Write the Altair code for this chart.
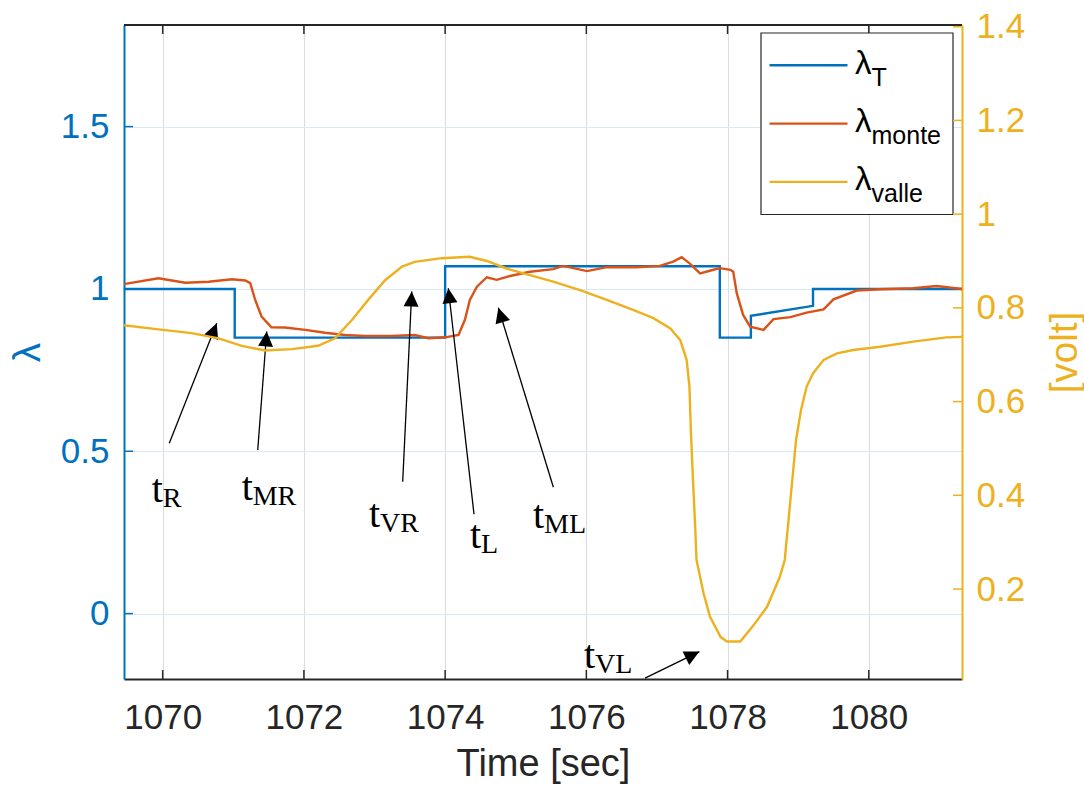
import math
import altair as alt
import pandas as pd

# ---------------- data ----------------
t_T = [1069.45, 1071.02, 1071.02, 1074.0, 1074.0, 1077.89, 1077.89, 1078.33, 1078.33, 1079.21, 1079.21, 1081.32]
lam_T = [1.0, 1.0, 0.85, 0.85, 1.07, 1.07, 0.85, 0.85, 0.917, 0.948, 1.0, 1.0]

t_monte = [1069.45, 1069.94, 1070.32, 1070.65, 1070.98, 1071.17, 1071.24, 1071.31, 1071.40, 1071.54,
           1071.73, 1072.02, 1072.30, 1072.58, 1072.87, 1073.24, 1073.57, 1073.76, 1074.00, 1074.19,
           1074.28, 1074.35, 1074.45, 1074.59, 1074.73, 1074.92, 1075.20, 1075.53, 1075.67, 1076.01,
           1076.29, 1076.71, 1077.04, 1077.23, 1077.35, 1077.47, 1077.61, 1077.80, 1077.89, 1078.04,
           1078.08, 1078.13, 1078.22, 1078.32, 1078.51, 1078.65, 1078.89, 1079.12, 1079.36, 1079.50,
           1079.83, 1080.16, 1080.63, 1080.96, 1081.32]
lam_monte = [1.015, 1.033, 1.019, 1.022, 1.030, 1.026, 1.018, 0.966, 0.915, 0.882,
             0.881, 0.874, 0.865, 0.858, 0.855, 0.855, 0.858, 0.848, 0.851, 0.858,
             0.905, 0.966, 1.007, 1.036, 1.028, 1.040, 1.053, 1.061, 1.071, 1.055,
             1.067, 1.067, 1.071, 1.084, 1.098, 1.077, 1.048, 1.059, 1.064, 1.059,
             1.053, 0.987, 0.920, 0.884, 0.874, 0.907, 0.913, 0.927, 0.937, 0.968,
             0.995, 0.999, 1.002, 1.009, 1.000]

t_valle = [1069.45, 1069.94, 1070.41, 1070.79, 1071.12, 1071.45, 1071.83, 1072.20, 1072.44, 1072.68,
           1072.91, 1073.15, 1073.39, 1073.57, 1073.95, 1074.35, 1074.59, 1074.87, 1075.20, 1075.53,
           1075.91, 1076.29, 1076.67, 1076.95, 1077.19, 1077.33, 1077.42, 1077.46, 1077.48, 1077.51,
           1077.54, 1077.56, 1077.66, 1077.75, 1077.90, 1077.99, 1078.18, 1078.37, 1078.56, 1078.74,
           1078.81, 1078.89, 1078.97, 1079.04, 1079.12, 1079.21, 1079.36, 1079.55, 1079.78, 1080.16,
           1080.63, 1081.10, 1081.32]
volt_valle = [0.763, 0.754, 0.746, 0.735, 0.719, 0.709, 0.712, 0.719, 0.735, 0.774,
              0.817, 0.859, 0.888, 0.898, 0.906, 0.909, 0.900, 0.884, 0.870, 0.856,
              0.838, 0.817, 0.795, 0.778, 0.756, 0.731, 0.689, 0.632, 0.539, 0.433,
              0.337, 0.262, 0.191, 0.141, 0.098, 0.088, 0.088, 0.123, 0.162, 0.226,
              0.262, 0.390, 0.518, 0.582, 0.632, 0.660, 0.689, 0.703, 0.710, 0.717,
              0.728, 0.737, 0.738]

ann_sub = ["R", "MR", "VR", "L", "ML", "VL"]
ann_t = [1069.844, 1071.119, 1072.922, 1074.353, 1075.245, 1075.968]
ann_lam = [0.345, 0.350, 0.268, 0.202, 0.264, -0.168]
tail_t = [1070.093, 1071.346, 1073.399, 1074.409, 1075.533, 1076.831]
tail_lam = [0.525, 0.504, 0.406, 0.306, 0.389, -0.199]
head_t = [1070.765, 1071.473, 1073.527, 1074.045, 1074.754, 1077.601]
head_lam = [0.894, 0.869, 0.992, 1.002, 0.942, -0.117]

x_ticks = [1070, 1072, 1074, 1076, 1078, 1080]
lam_ticks = [0, 0.5, 1, 1.5]
volt_ticks = [0.2, 0.4, 0.6, 0.8, 1.0, 1.2, 1.4]

legend_names = ["T", "monte", "valle"]

# ---------------- layout / style ----------------
W, H = 838, 654
X_DOM = [1069.452, 1081.32]
L_DOM = [-0.2015, 1.813]
R_DOM = [0.008, 1.4036]
BLUE, ORANGE, YELLOW, DARK = "#0072BD", "#D95319", "#EDB120", "#262626"
SANS, SERIF = "Liberation Sans", "Liberation Serif"
TICK = 9
LW = 2.4

sx = W / (X_DOM[1] - X_DOM[0])
sy = H / (L_DOM[1] - L_DOM[0])

df_T = pd.DataFrame({"t": t_T, "lam": lam_T})
df_M = pd.DataFrame({"t": t_monte, "lam": lam_monte})
df_V = pd.DataFrame({"t": t_valle, "v": volt_valle})
angles = []
for a, b, c, d in zip(tail_t, tail_lam, head_t, head_lam):
    dx = (c - a) * sx
    dy = (d - b) * sy  # upward positive
    angles.append(math.degrees(math.atan2(dx, dy)) % 360)
df_arr = pd.DataFrame({"t": tail_t, "lam": tail_lam, "t2": head_t, "lam2": head_lam})
df_head = pd.DataFrame({"t": head_t, "lam": head_lam, "ang": angles})
df_ann = pd.DataFrame({"t": ann_t, "lam": ann_lam, "sub": ann_sub, "main": ["t"] * len(ann_sub)})
df_xt = pd.DataFrame({"t": x_ticks})
df_lt = pd.DataFrame({"lam": lam_ticks})
df_vt = pd.DataFrame({"v": volt_ticks})
one = pd.DataFrame({"k": [0]})

X = alt.X("t:Q", scale=alt.Scale(domain=X_DOM, nice=False, zero=False),
          axis=alt.Axis(values=x_ticks, format="d", ticks=False, labelFont=SANS, labelFontSize=35,
                        labelColor=DARK, labelPadding=21, domainColor=DARK, domainWidth=2,
                        grid=True, gridColor="#dcdcdc", gridWidth=1,
                        title="Time [sec]", titleFont=SANS, titleFontSize=38, titleColor=DARK,
                        titleFontWeight="normal", titleX=W / 2, titleY=96, titleAlign="center",
                        titleBaseline="alphabetic"))
YL = alt.Y("lam:Q", scale=alt.Scale(domain=L_DOM, nice=False, zero=False),
           axis=alt.Axis(values=lam_ticks, format="~g", orient="left", ticks=False, labelFont=SANS,
                         labelFontSize=35, labelColor=BLUE, labelPadding=15, domainColor=BLUE, domainWidth=2,
                         grid=True, gridColor="#d9eaf5", gridWidth=1,
                         title="λ", titleFont=SANS, titleFontSize=38.5, titleColor=BLUE,
                         titleFontWeight="normal", titleAngle=270, titleX=-96.5, titleY=H / 2,
                         titleAlign="center", titleBaseline="middle"))
YR = alt.Y("v:Q", scale=alt.Scale(domain=R_DOM, nice=False, zero=False),
           axis=alt.Axis(values=volt_ticks, format="~g", orient="right", ticks=False, labelFont=SANS,
                         labelFontSize=35, labelColor=YELLOW, labelPadding=14, domainColor=YELLOW,
                         domainWidth=2, grid=False,
                         title="[volt]", titleFont=SANS, titleFontSize=38.5, titleColor=YELLOW,
                         titleFontWeight="normal", titleAngle=270, titleX=102, titleY=H / 2,
                         titleAlign="center", titleBaseline="middle"))

line_T = alt.Chart(df_T).mark_line(color=BLUE, strokeWidth=LW).encode(x=X, y=YL)
line_M = alt.Chart(df_M).mark_line(color=ORANGE, strokeWidth=LW).encode(x=X, y=YL)

top_border = alt.Chart(one).mark_rule(color=DARK, strokeWidth=2).encode(
    x=alt.value(0), x2=alt.value(W), y=alt.value(0))
top_ticks = alt.Chart(df_xt).mark_rule(color=DARK, strokeWidth=1.5).encode(
    x=X, y=alt.value(0), y2=alt.value(TICK))
bot_ticks = alt.Chart(df_xt).mark_rule(color=DARK, strokeWidth=1.5).encode(
    x=X, y=alt.value(H - TICK), y2=alt.value(H))
left_ticks = alt.Chart(df_lt).mark_rule(color=BLUE, strokeWidth=1.5).encode(
    y=YL, x=alt.value(0), x2=alt.value(TICK))

arrows = alt.Chart(df_arr).mark_rule(color="black", strokeWidth=1.3).encode(
    x=X, x2="t2:Q", y=YL, y2="lam2:Q")
heads = alt.Chart(df_head).mark_point(
    shape="M0,0L-0.5,1L0.5,1Z", size=900, filled=True, color="black", opacity=1, strokeWidth=0
).encode(x=X, y=YL, angle=alt.Angle("ang:Q", scale=None))
ann_main = alt.Chart(df_ann).mark_text(font=SERIF, fontSize=40, align="left", baseline="alphabetic",
                                       color="black").encode(x=X, y=YL, text="main:N")
ann_subs = alt.Chart(df_ann).mark_text(font=SERIF, fontSize=28, align="left", baseline="alphabetic",
                                       color="black", dx=11, dy=5).encode(x=X, y=YL, text="sub:N")

# legend (drawn manually so the subscripts can be kept)
leg_box = alt.Chart(one).mark_rect(fill="white", stroke=DARK, strokeWidth=1.2).encode(
    x=alt.value(637), x2=alt.value(829), y=alt.value(8), y2=alt.value(189.5))
leg_parts = [leg_box]
for i, (name, col) in enumerate(zip(legend_names, [BLUE, ORANGE, YELLOW])):
    yl = 40.3 + i * 58.3
    leg_parts.append(alt.Chart(one).mark_rule(color=col, strokeWidth=LW).encode(
        x=alt.value(645.5), x2=alt.value(723.5), y=alt.value(yl)))
    leg_parts.append(alt.Chart(one).mark_text(text="λ", font=SANS, fontSize=33, align="left",
                                              baseline="alphabetic", color="black").encode(
        x=alt.value(731), y=alt.value(yl + 8.3)))
    leg_parts.append(alt.Chart(one).mark_text(text=name, font=SANS, fontSize=25, align="left",
                                              baseline="alphabetic", color="black").encode(
        x=alt.value(747.5), y=alt.value(yl + 20.5)))

left_group = alt.layer(line_T, line_M, top_border, top_ticks, bot_ticks, left_ticks,
                       arrows, heads, ann_main, ann_subs, *leg_parts)

line_V = alt.Chart(df_V).mark_line(color=YELLOW, strokeWidth=LW).encode(x=X, y=YR)
right_ticks = alt.Chart(df_vt).mark_rule(color=YELLOW, strokeWidth=1.5).encode(
    y=YR, x=alt.value(W - TICK), x2=alt.value(W))
right_group = alt.layer(line_V, right_ticks)

chart = alt.layer(left_group, right_group).resolve_scale(y="independent").properties(
    width=W, height=H,
    autosize=alt.AutoSizeParams(type="none"),
    padding={"left": 124, "top": 25, "right": 122, "bottom": 106},
    background="white",
).configure_view(stroke=None)

chart.save("out.html", embed_options={"renderer": "svg", "actions": False})
